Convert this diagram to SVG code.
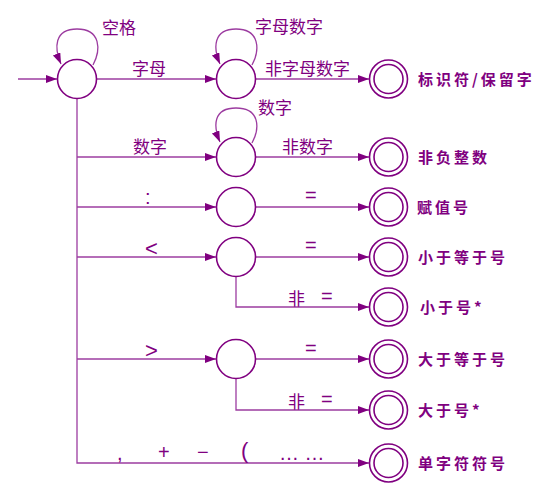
<svg xmlns="http://www.w3.org/2000/svg" width="541" height="486" viewBox="0 0 541 486">
<style>
.ln{fill:none;stroke:#9c3ca0;stroke-width:1.3}
.st{fill:#fff;stroke:#800080;stroke-width:1.6}
.lb{font-family:"Noto Sans CJK SC","Liberation Sans",sans-serif;font-size:17px;fill:#800080}
.sy{font-family:"Liberation Sans","Noto Sans CJK SC",sans-serif;font-size:20px;fill:#800080}
.fl{font-family:"Noto Sans CJK SC","Liberation Serif",sans-serif;font-size:15px;font-weight:bold;fill:#800080;letter-spacing:3px}
</style>
<defs>
<marker id="ah" markerUnits="userSpaceOnUse" markerWidth="12" markerHeight="10" refX="11" refY="4" orient="auto">
<path d="M0,0 L11,4 L0,8 z" fill="#800080"/>
</marker>
</defs>
<g id="connectors">
<path class="ln" d="M18 79 H57" marker-end="url(#ah)"/>
<path class="ln" d="M97 79 H216" marker-end="url(#ah)"/>
<path class="ln" d="M256 79 H369" marker-end="url(#ah)"/>
<path class="ln" d="M93 65 C101 50 101 29 77 29 C54 29 54 48 61 64" marker-end="url(#ah)"/>
<path class="ln" d="M252 65 C260 50 260 29 236 29 C213 29 213 48 220 64" marker-end="url(#ah)"/>
<path class="ln" d="M252 143 C260 128 260 108 236 108 C213 108 213 126 220 142" marker-end="url(#ah)"/>
<path class="ln" d="M77 99 V463 H369" marker-end="url(#ah)"/>
<path class="ln" d="M77 157 H216" marker-end="url(#ah)"/>
<path class="ln" d="M256 157 H369" marker-end="url(#ah)"/>
<path class="ln" d="M77 207 H216" marker-end="url(#ah)"/>
<path class="ln" d="M256 207 H369" marker-end="url(#ah)"/>
<path class="ln" d="M77 257 H216" marker-end="url(#ah)"/>
<path class="ln" d="M256 257 H369" marker-end="url(#ah)"/>
<path class="ln" d="M236 277 V307 H369" marker-end="url(#ah)"/>
<path class="ln" d="M77 359 H216" marker-end="url(#ah)"/>
<path class="ln" d="M256 359 H369" marker-end="url(#ah)"/>
<path class="ln" d="M236 379 V410 H369" marker-end="url(#ah)"/>
</g>
<g id="edge-labels">
<text class="lb" x="102" y="34">空格</text>
<text class="lb" x="132" y="75">字母</text>
<text class="lb" x="255" y="33">字母数字</text>
<text class="lb" x="265" y="75">非字母数字</text>
<text class="lb" x="258" y="114">数字</text>
<text class="lb" x="133" y="153">数字</text>
<text class="lb" x="282" y="153">非数字</text>
<text class="sy" x="145" y="204">:</text>
<text class="sy" x="305" y="202">=</text>
<text class="sy" x="145" y="256" style="font-size:22px">&lt;</text>
<text class="sy" x="305" y="252">=</text>
<text class="lb" x="288" y="305">非</text>
<text class="sy" x="321" y="303">=</text>
<text class="sy" x="145" y="358" style="font-size:22px">&gt;</text>
<text class="sy" x="305" y="355">=</text>
<text class="lb" x="288" y="408">非</text>
<text class="sy" x="321" y="406">=</text>
<text class="sy" x="117" y="460">,</text>
<text class="sy" x="158" y="459">+</text>
<text class="sy" x="197" y="459">−</text>
<text class="sy" x="241" y="458" style="font-size:22px">(</text>
<text class="sy" x="279" y="460">… …</text>
</g>
<g id="s0"><circle class="st" cx="77" cy="79" r="19.5"/></g>
<g id="s1"><circle class="st" cx="236" cy="79" r="19.5"/></g>
<g id="s2"><circle class="st" cx="236" cy="157" r="19.5"/></g>
<g id="s3"><circle class="st" cx="236" cy="207" r="19.5"/></g>
<g id="s4"><circle class="st" cx="236" cy="257" r="19.5"/></g>
<g id="s5"><circle class="st" cx="236" cy="359" r="19.5"/></g>
<g id="f1"><circle class="st" cx="388.5" cy="79" r="19"/><circle class="st" cx="388.5" cy="79" r="14.5"/><text class="fl" x="418" y="85">标识符/保留字</text></g>
<g id="f2"><circle class="st" cx="388.5" cy="157" r="19"/><circle class="st" cx="388.5" cy="157" r="14.5"/><text class="fl" x="418" y="163">非负整数</text></g>
<g id="f3"><circle class="st" cx="388.5" cy="207" r="19"/><circle class="st" cx="388.5" cy="207" r="14.5"/><text class="fl" x="417" y="213">赋值号</text></g>
<g id="f4"><circle class="st" cx="388.5" cy="257" r="19"/><circle class="st" cx="388.5" cy="257" r="14.5"/><text class="fl" x="418" y="263">小于等于号</text></g>
<g id="f5"><circle class="st" cx="388.5" cy="307" r="19"/><circle class="st" cx="388.5" cy="307" r="14.5"/><text class="fl" x="420" y="313">小于号*</text></g>
<g id="f6"><circle class="st" cx="388.5" cy="359" r="19"/><circle class="st" cx="388.5" cy="359" r="14.5"/><text class="fl" x="418" y="365">大于等于号</text></g>
<g id="f7"><circle class="st" cx="388.5" cy="410" r="19"/><circle class="st" cx="388.5" cy="410" r="14.5"/><text class="fl" x="418" y="416">大于号*</text></g>
<g id="f8"><circle class="st" cx="388.5" cy="463" r="19"/><circle class="st" cx="388.5" cy="463" r="14.5"/><text class="fl" x="418" y="469">单字符符号</text></g>
</svg>
